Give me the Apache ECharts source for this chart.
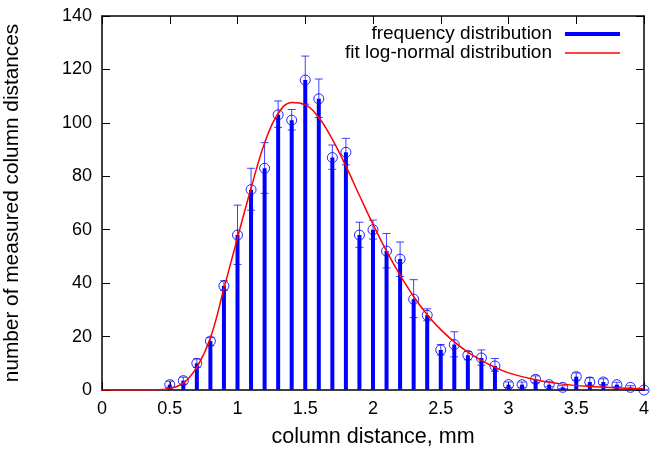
<!DOCTYPE html>
<html>
<head>
<meta charset="utf-8">
<script src="https://cdn.jsdelivr.net/npm/echarts@6/dist/echarts.min.js"></script>
<style>
  html, body { margin: 0; padding: 0; background: #fff; }
  #chart { width: 662px; height: 450px; }
</style>
</head>
<body>
<div id="chart"></div>
<script>
// measured column distances (mm) and counts
const distances = [0.5, 0.6, 0.7, 0.8, 0.9, 1.0, 1.1, 1.2, 1.3, 1.4, 1.5, 1.6, 1.7, 1.8, 1.9, 2.0, 2.1, 2.2,
  2.3, 2.4, 2.5, 2.6, 2.7, 2.8, 2.9, 3.0, 3.1, 3.2, 3.3, 3.4, 3.5, 3.6, 3.7, 3.8, 3.9, 4.0];
const counts = [2, 3.5, 10, 18.3, 39, 58, 75, 83, 103, 101, 116, 109, 87, 89, 58, 60, 52, 49,
  34, 28, 15, 17, 13, 12, 9, 2, 2, 4, 2, 1, 5, 3, 3, 2, 1, 0];
const errLow = [1, 2.2, 8.5, 16.6, 37.3, 47, 67.3, 73.6, 98.3, 97.3, 107, 102, 82.6, 84.3, 53.4, 56.5, 45.7, 42.5,
  27.1, 25.9, 13.1, 12.4, 11.3, 9.3, 7, 1, 1, 2.7, 1.2, 0.5, 3.7, 1.8, 2, 1.2, 0.5, 0];
const errHigh = [3.3, 4.8, 11.6, 19.6, 40.9, 69.2, 83, 92.6, 108.2, 105, 125, 116.4, 91.7, 94.2, 62.8, 63.6, 58.6, 55.4,
  41.3, 30.4, 17, 21.8, 14.4, 15, 11.8, 3, 3, 5.3, 3, 1.6, 6.4, 4.6, 4.2, 2.9, 1.6, 0];

// fitted log-normal curve
const fitX = [0, 0.3, 0.4, 0.5, 0.6, 0.7, 0.8, 0.9, 1.0, 1.1, 1.2, 1.3, 1.4, 1.5, 1.6, 1.7, 1.8, 1.9, 2.0,
  2.1, 2.2, 2.3, 2.4, 2.5, 2.6, 2.7, 2.8, 2.9, 3.0, 3.2, 3.4, 3.6, 3.8, 4.0];
const fitY = [0, 0, 0.05, 0.6, 2.6, 8.6, 19.5, 38, 57, 75.5, 92.5, 103.5, 107.6, 106.8, 102, 93.8, 83.8, 72.8, 62,
  52, 43, 35, 28.2, 22.6, 18, 14.2, 11.1, 8.5, 6.4, 3.8, 2.2, 1.3, 0.8, 0.45];

const xTickStep = 0.5;
const yTickStep = 20;

const chart = echarts.init(document.getElementById('chart'));
const font = 'Liberation Sans';
const blue = '#0000ff';
const red = '#ff0000';

const tickStyle = { show: true, inside: true, length: 8, lineStyle: { color: '#000', width: 1 } };
const lineStyle = { show: true, onZero: false, lineStyle: { color: '#000', width: 1.5 } };

const option = {
  animation: false,
  backgroundColor: '#fff',
  grid: { left: 102, right: 18, top: 16, bottom: 60, outerBoundsMode: 'none', containLabel: false },
  legend: [
    {
      data: [{ name: 'frequency distribution', icon: 'rect' }],
      right: 42, top: 24, padding: 0,
      align: 'right', itemWidth: 55, itemHeight: 4,
      selectedMode: false,
      textStyle: { fontFamily: font, fontSize: 19, color: '#000', lineHeight: 20, padding: [0, 8, 0, 0] }
    },
    {
      data: [{ name: 'fit log-normal distribution', icon: 'rect' }],
      right: 42, top: 43, padding: 0,
      align: 'right', itemWidth: 55, itemHeight: 1.5,
      selectedMode: false,
      textStyle: { fontFamily: font, fontSize: 19, color: '#000', lineHeight: 20, padding: [0, 8, 0, 0] }
    }
  ],
  xAxis: [
    {
      type: 'value', min: 0, max: 4, interval: xTickStep,
      name: 'column distance, mm', nameLocation: 'middle', nameGap: 36,
      nameTextStyle: { fontFamily: font, fontSize: 21.5, color: '#000' },
      axisLine: lineStyle, axisTick: tickStyle, splitLine: { show: false },
      axisLabel: { fontFamily: font, fontSize: 18, color: '#000', margin: 10 }
    },
    {
      type: 'value', position: 'top', min: 0, max: 4, interval: xTickStep,
      axisLine: lineStyle, axisTick: tickStyle, splitLine: { show: false },
      axisLabel: { show: false }
    }
  ],
  yAxis: [
    {
      type: 'value', min: 0, max: 140, interval: yTickStep,
      name: 'number of measured column distances', nameLocation: 'middle', nameGap: 79,
      nameTextStyle: { fontFamily: font, fontSize: 20.8, color: '#000' },
      axisLine: lineStyle, axisTick: tickStyle, splitLine: { show: false },
      axisLabel: { fontFamily: font, fontSize: 18, color: '#000', margin: 10 }
    },
    {
      type: 'value', position: 'right', min: 0, max: 140, interval: yTickStep,
      axisLine: lineStyle, axisTick: tickStyle, splitLine: { show: false },
      axisLabel: { show: false }
    }
  ],
  series: [
    {
      name: 'frequency distribution',
      type: 'bar',
      barWidth: 4,
      itemStyle: { color: blue },
      data: distances.map((x, i) => [x, counts[i]]),
      z: 2
    },
    {
      name: 'errors',
      type: 'custom',
      data: distances.map((x, i) => [x, errLow[i], errHigh[i]]),
      renderItem: (params, api) => {
        const lo = api.coord([api.value(0), api.value(1)]);
        const hi = api.coord([api.value(0), api.value(2)]);
        const cap = 4;
        const style = { stroke: blue, lineWidth: 1, opacity: 0.75 };
        return {
          type: 'group',
          children: [
            { type: 'line', shape: { x1: lo[0], y1: lo[1], x2: hi[0], y2: hi[1] }, style },
            { type: 'line', shape: { x1: lo[0] - cap, y1: lo[1], x2: lo[0] + cap, y2: lo[1] }, style },
            { type: 'line', shape: { x1: hi[0] - cap, y1: hi[1], x2: hi[0] + cap, y2: hi[1] }, style }
          ]
        };
      },
      z: 3
    },
    {
      name: 'points',
      type: 'scatter',
      symbol: 'circle',
      symbolSize: 10,
      itemStyle: { color: 'rgba(0,0,0,0)', borderColor: blue, borderWidth: 1, opacity: 0.85 },
      data: distances.map((x, i) => [x, counts[i]]),
      z: 4
    },
    {
      name: 'fit log-normal distribution',
      type: 'line',
      smooth: 0.4,
      showSymbol: false,
      itemStyle: { color: red },
      lineStyle: { color: red, width: 1.5 },
      data: fitX.map((x, i) => [x, fitY[i]]),
      z: 5
    }
  ]
};

chart.setOption(option);
</script>
</body>
</html>
